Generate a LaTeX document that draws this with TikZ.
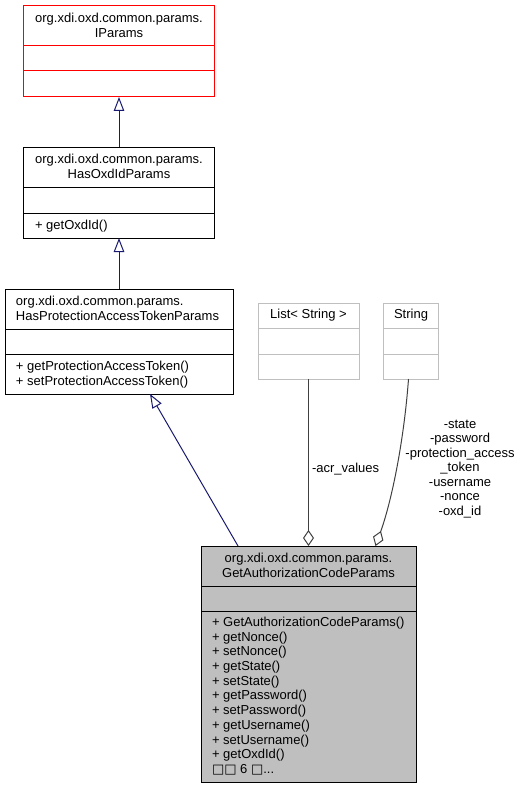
\documentclass[tikz,border=0pt]{standalone}
\usepackage{fontspec}
\setmainfont{Liberation Sans}
\newfontfamily\dejavu{DejaVu Sans}
\usetikzlibrary{arrows.meta}
\definecolor{navy}{HTML}{191970}
\definecolor{boxgray}{HTML}{BFBFBF}
\definecolor{linegray}{HTML}{404040}
\begin{document}
\begin{tikzpicture}[x=1pt,y=-1pt,
  every node/.style={font=\fontsize{13}{14.7}\selectfont, inner sep=0pt, outer sep=0pt},
  umlbox/.style={draw, line width=1pt, anchor=north west, minimum width=#1},
  gen/.style={draw=navy, line width=1pt, -{Triangle[open,length=14pt,width=10.5pt,line width=1pt]}},
  agg/.style={draw=linegray, line width=1pt, -{Diamond[open,length=16pt,width=11pt,line width=1pt]}},
  txt/.style={align=center},
  ltxt/.style={align=left, anchor=north west}]
\useasboundingbox (0,0) rectangle (521,789);
% IParams
\node[umlbox=190.5pt, draw=red, minimum height=91pt] (ip) at (23.5,6) {};
\draw[red, line width=1pt] (ip.west |- 0,46) -- (ip.east |- 0,46);
\draw[red, line width=1pt] (ip.west |- 0,71) -- (ip.east |- 0,71);
\node[txt] (ipt) at (119,25.5) {org.xdi.oxd.common.params.\\IParams};
% HasOxdIdParams
\node[umlbox=190.5pt, minimum height=91pt] (ho) at (23.5,147) {};
\draw[line width=1pt] (ho.west |- 0,187) -- (ho.east |- 0,187);
\draw[line width=1pt] (ho.west |- 0,213) -- (ho.east |- 0,213);
\node[txt] (hot) at (119,166.5) {org.xdi.oxd.common.params.\\HasOxdIdParams};
\node[ltxt] (hom) at (35,220) {+ getOxdId()};
% HasProtectionAccessTokenParams
\node[umlbox=228pt, minimum height=105pt] (hp) at (5,289) {};
\draw[line width=1pt] (hp.west |- 0,329) -- (hp.east |- 0,329);
\draw[line width=1pt] (hp.west |- 0,354) -- (hp.east |- 0,354);
\node[ltxt] (hpt) at (16,296) {org.xdi.oxd.common.params.\\HasProtectionAccessTokenParams};
\node[ltxt] (hpm) at (16,361) {+ getProtectionAccessToken()\\+ setProtectionAccessToken()};
% List< String >
\node[umlbox=101pt, draw=boxgray, minimum height=76pt] (lst) at (258,303) {};
\draw[boxgray, line width=1pt] (lst.west |- 0,328.7) -- (lst.east |- 0,328.7);
\draw[boxgray, line width=1pt] (lst.west |- 0,354) -- (lst.east |- 0,354);
\node[txt] (lstt) at (308.5,315.5) {List< String >};
% String
\node[umlbox=54.6pt, draw=boxgray, minimum height=76pt] (str) at (383.7,303) {};
\draw[boxgray, line width=1pt] (str.west |- 0,328.7) -- (str.east |- 0,328.7);
\draw[boxgray, line width=1pt] (str.west |- 0,354) -- (str.east |- 0,354);
\node[txt] (strt) at (411,315.5) {String};
% GetAuthorizationCodeParams
\node[umlbox=215pt, fill=boxgray, minimum height=236pt] (gac) at (201,546) {};
\draw[line width=1pt] (gac.west |- 0,586) -- (gac.east |- 0,586);
\draw[line width=1pt] (gac.west |- 0,611) -- (gac.east |- 0,611);
\node[txt] (gact) at (308.5,565.5) {org.xdi.oxd.common.params.\\GetAuthorizationCodeParams};
\node[ltxt] (gacm) at (212,617) {+ GetAuthorizationCodeParams()\\+ getNonce()\\+ setNonce()\\+ getState()\\+ setState()\\+ getPassword()\\+ setPassword()\\+ getUsername()\\+ setUsername()\\+ getOxdId()\\{\dejavu □□} 6 {\dejavu □}...};
% connectors
\draw[gen] (ho.north -| 119,0) -- (ip.south -| 119,0);
\draw[gen] (hp.north -| 119,0) -- (ho.south -| 119,0);
\draw[gen] (gac.north -| 238,0) -- (hp.south -| 150,0);
\draw[agg] (lst.south -| 308.5,0) -- (gac.north -| 308.5,0);
\draw[agg] (str.south -| 408.5,0) .. controls (404,440) and (392,500) .. (gac.north -| 375.5,0);
% labels
\node[anchor=west] (l1) at (312,469) {-acr\_values};
\node[align=center, anchor=north, font=\fontsize{13}{14.5}\selectfont] (l2) at (460,420) {-state\\-password\\-protection\_access\\\_token\\-username\\-nonce\\-oxd\_id};
\end{tikzpicture}
\end{document}
